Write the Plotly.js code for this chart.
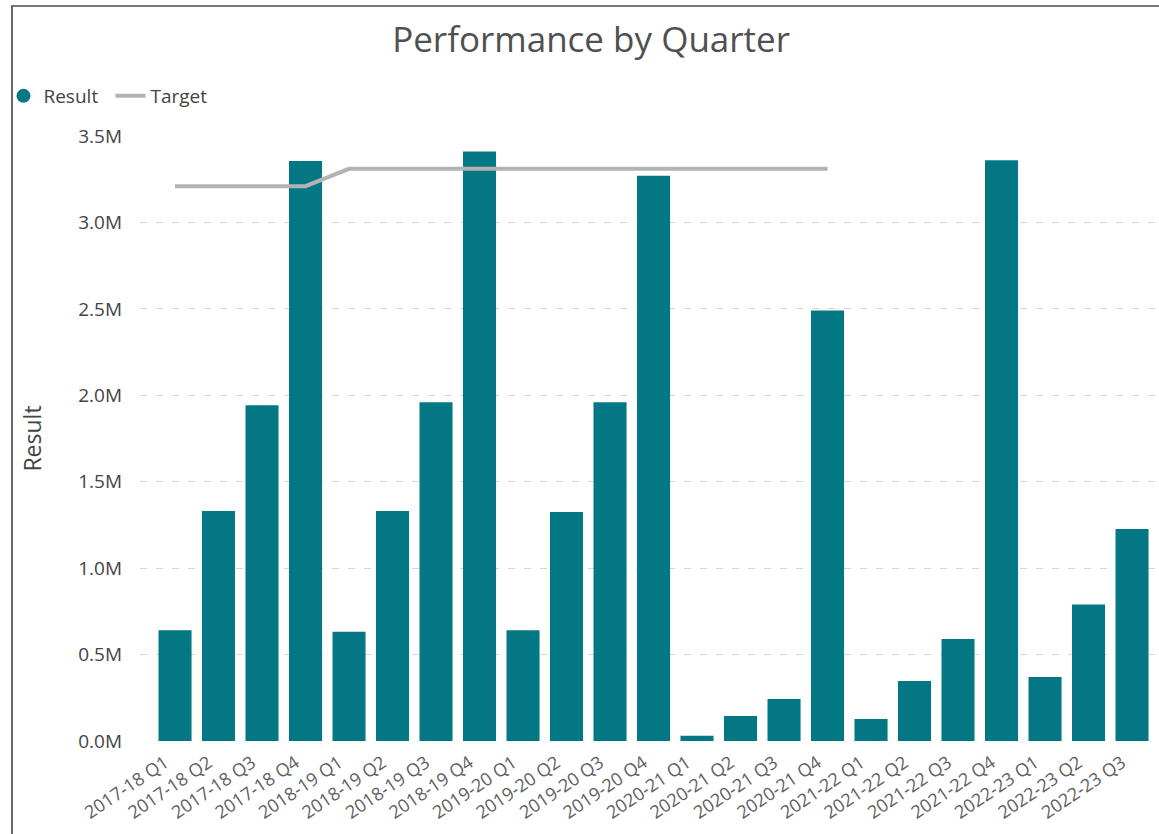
<!DOCTYPE html>
<html>
<head>
<meta charset="utf-8">
<script src="https://cdn.plot.ly/plotly-3.0.1.min.js"></script>
<style>
  html, body { margin: 0; padding: 0; background: #ffffff; }
  #frame { position: absolute; left: 11px; top: 5px; width: 1160px; height: 840px; border-left: 2px solid #666; border-top: 2px solid #777; box-sizing: border-box; pointer-events: none; z-index: 5; }
  #chart { position: absolute; left: 0; top: 0; width: 1159px; height: 834px; }
</style>
</head>
<body>
<div id="chart"></div>
<div id="frame"></div>
<script>
const quarters = [
  "2017-18 Q1","2017-18 Q2","2017-18 Q3","2017-18 Q4",
  "2018-19 Q1","2018-19 Q2","2018-19 Q3","2018-19 Q4",
  "2019-20 Q1","2019-20 Q2","2019-20 Q3","2019-20 Q4",
  "2020-21 Q1","2020-21 Q2","2020-21 Q3","2020-21 Q4",
  "2021-22 Q1","2021-22 Q2","2021-22 Q3","2021-22 Q4",
  "2022-23 Q1","2022-23 Q2","2022-23 Q3"
];
const resultValues = [
  640000, 1330000, 1943000, 3355000,
  632000, 1330000, 1960000, 3410000,
  640000, 1325000, 1960000, 3270000,
  30000, 145000, 243000, 2490000,
  127000, 347000, 590000, 3360000,
  370000, 790000, 1226000
];
const targetValues = [
  3210000, 3210000, 3210000, 3210000,
  3310000, 3310000, 3310000, 3310000,
  3310000, 3310000, 3310000, 3310000,
  3310000, 3310000, 3310000, 3310000,
  null, null, null, null,
  null, null, null
];
const yTickVals = [0, 500000, 1000000, 1500000, 2000000, 2500000, 3000000, 3500000];
const yTickText = ["0.0M","0.5M","1.0M","1.5M","2.0M","2.5M","3.0M","3.5M"];

const teal = "#037884";
const grey = "#b3b3b3";
const fontFam = "'Segoe UI', 'Open Sans', 'Noto Sans', sans-serif";

const traces = [
  {
    type: "bar", x: quarters, y: resultValues, name: "Result",
    marker: { color: teal }, showlegend: false, hoverinfo: "x+y"
  },
  {
    type: "scatter", mode: "markers", x: [quarters[0]], y: [null], name: "Result",
    marker: { color: teal, symbol: "circle", size: 14 }, showlegend: true
  },
  {
    type: "scatter", mode: "lines", x: quarters, y: targetValues, name: "Target",
    line: { color: grey, width: 4 }, connectgaps: false
  }
];

const layout = {
  width: 1159, height: 834,
  paper_bgcolor: "#ffffff", plot_bgcolor: "#ffffff",
  margin: { l: 140, r: 0, t: 136, b: 93 },
  font: { family: fontFam, color: "#555" },
  title: {
    text: "Performance by Quarter",
    x: 0.51, xanchor: "center", y: 0.952, yanchor: "middle",
    xref: "container", yref: "container",
    font: { size: 35, color: "#505050", family: fontFam }
  },
  legend: {
    orientation: "h", xref: "container", yref: "container",
    x: 0.003, xanchor: "left", y: 1 - 96/834, yanchor: "middle",
    font: { size: 19, color: "#444" }, entrywidth: 62, entrywidthmode: "pixels",
    tracegroupgap: 0, itemgap: 0,
    bgcolor: "rgba(0,0,0,0)"
  },
  bargap: 0.24,
  xaxis: {
    type: "category", range: [-0.805, 22.62],
    tickangle: -34, tickfont: { size: 18, color: "#606060" },
    ticklabelshift: -10, ticklabelstandoff: 7,
    showgrid: false, zeroline: false, showline: false, ticks: "",
    automargin: false
  },
  yaxis: {
    range: [0, 3500000], tickvals: yTickVals, ticktext: yTickText,
    tickfont: { size: 19, color: "#444" },
    showgrid: true, gridcolor: "#d6d6d6", gridwidth: 1, griddash: "7px,9px",
    zeroline: false, showline: false, ticks: "", ticklabelstandoff: 17,
    title: { text: "Result", font: { size: 23, color: "#444" }, standoff: 30 },
    automargin: false
  }
};

Plotly.newPlot("chart", traces, layout, { displayModeBar: false, staticPlot: true });
</script>
</body>
</html>
